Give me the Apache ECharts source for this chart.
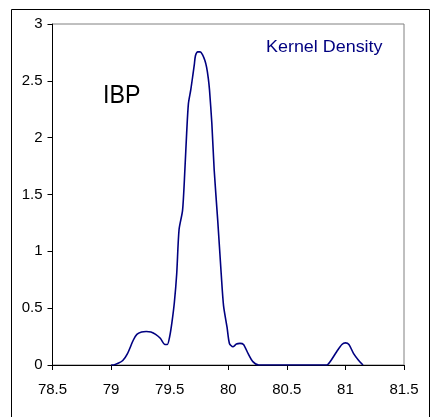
<!DOCTYPE html>
<html>
<head>
<meta charset="utf-8">
<script src="https://cdn.jsdelivr.net/npm/echarts@6/dist/echarts.min.js"></script>
<style>
  html, body { margin: 0; padding: 0; background: #fff; }
  #chart { width: 430px; height: 417px; }
</style>
</head>
<body>
<div id="chart"></div>
<script>
// Kernel density estimate of IBP values
const densityX = [
  79.00, 79.02, 79.06, 79.10, 79.14, 79.19, 79.22, 79.26, 79.30, 79.34,
  79.38, 79.42, 79.46, 79.48, 79.50, 79.52, 79.54, 79.56, 79.58, 79.61,
  79.63, 79.645, 79.66, 79.68, 79.70, 79.71, 79.72, 79.74, 79.76, 79.78,
  79.80, 79.815, 79.83, 79.84, 79.86, 79.88, 79.91, 79.94, 79.96, 79.99,
  80.01, 80.04, 80.07, 80.10, 80.13, 80.17, 80.21, 80.26, 80.40, 80.60,
  80.84, 80.87, 80.925, 80.97, 81.00, 81.03, 81.07, 81.11, 81.15
];
const densityY = [
  0, 0, 0.015, 0.04, 0.10, 0.22, 0.27, 0.29, 0.295, 0.29,
  0.27, 0.235, 0.18, 0.18, 0.25, 0.38, 0.55, 0.80, 1.19, 1.36,
  1.72, 2.04, 2.30, 2.42, 2.565, 2.64, 2.72, 2.755, 2.755, 2.73,
  2.68, 2.62, 2.52, 2.42, 2.125, 1.715, 1.275, 0.80, 0.52, 0.33,
  0.19, 0.16, 0.185, 0.19, 0.18, 0.10, 0.03, 0, 0, 0,
  0, 0.03, 0.117, 0.18, 0.195, 0.18, 0.10, 0.045, 0
];
const xTicks = { min: 78.5, max: 81.5, step: 0.5 };
const yTicks = { min: 0, max: 3, step: 0.5 };
const seriesLabel = 'Kernel Density';
const panelLabel = 'IBP';

const chart = echarts.init(document.getElementById('chart'), null, { renderer: 'canvas' });
const FONT = 'Liberation Sans, Arial, sans-serif';

chart.setOption({
  animation: false,
  backgroundColor: '#ffffff',
  grid: {
    left: 52.5, top: 24, right: 26, bottom: 52,
    show: true, borderColor: '#808080', borderWidth: 1, backgroundColor: '#ffffff'
  },
  xAxis: {
    type: 'value',
    min: xTicks.min, max: xTicks.max, interval: xTicks.step,
    axisLine: { lineStyle: { color: '#000', width: 1 } },
    axisTick: { show: true, length: 5, inside: false, lineStyle: { color: '#000' } },
    axisLabel: { color: '#000', fontFamily: FONT, fontSize: 15, margin: 17 },
    splitLine: { show: false }
  },
  yAxis: {
    type: 'value',
    min: yTicks.min, max: yTicks.max, interval: yTicks.step,
    axisLine: { show: true, lineStyle: { color: '#000', width: 1 } },
    axisTick: { show: true, length: 5, inside: false, lineStyle: { color: '#000' } },
    axisLabel: { color: '#000', fontFamily: FONT, fontSize: 15, margin: 10 },
    splitLine: { show: false }
  },
  graphic: [
    {
      type: 'rect', left: 9, top: 7,
      shape: { width: 418, height: 408 },
      style: { fill: 'none', stroke: '#000', lineWidth: 1 },
      z: -10
    },
    {
      type: 'text', x: 103, y: 96, scaleX: 0.93,
      style: {
        text: panelLabel, fill: '#000', font: '25px ' + FONT,
        verticalAlign: 'middle', align: 'left'
      }
    },
    {
      type: 'text', x: 266, y: 48, scaleX: 1.12,
      style: {
        text: seriesLabel, fill: '#000080', font: '16px ' + FONT,
        verticalAlign: 'middle', align: 'left'
      }
    }
  ],
  series: [{
    type: 'line',
    data: densityX.map((x, i) => [x, densityY[i]]),
    showSymbol: false,
    smooth: 0.25,
    lineStyle: { color: '#000080', width: 1.6 },
    z: 5
  }]
});
</script>
</body>
</html>
